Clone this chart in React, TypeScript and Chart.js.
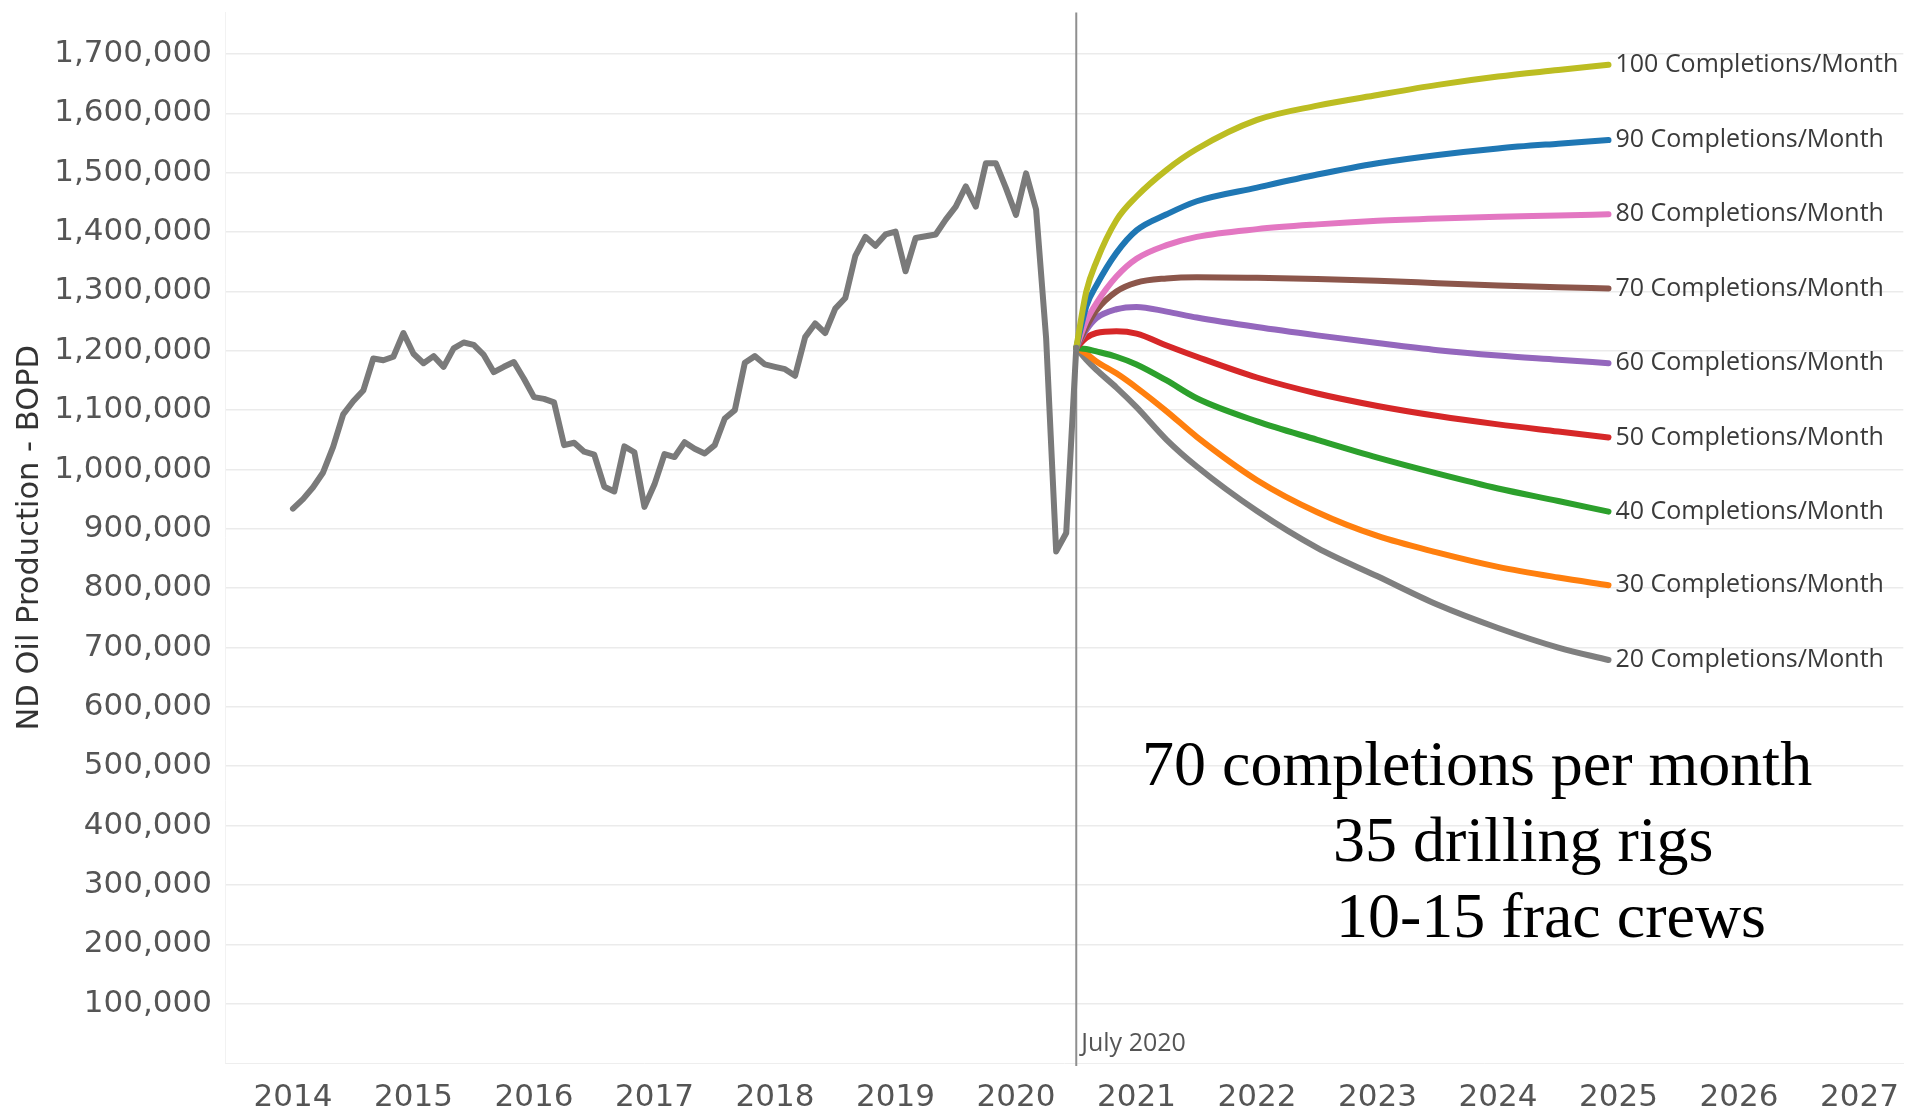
import { useEffect, useRef } from 'react';
import { Chart, registerables } from 'chart.js';

Chart.register(...registerables);

// ---------- data ----------
const histStart = '2014-01';
// Monthly ND oil production (BOPD, thousands), Jan 2014 .. Jul 2020
const histValues = [
  934, 950, 970, 995, 1038, 1093, 1115, 1133, 1187, 1184, 1190, 1230,
  1195, 1179, 1191, 1173, 1204, 1214, 1210, 1193, 1164, 1173, 1181, 1153,
  1122, 1119, 1113, 1041, 1045, 1030, 1025, 971, 963, 1039, 1029, 937,
  975, 1026, 1021, 1046, 1035, 1027, 1041, 1086, 1100, 1180, 1191, 1177,
  1173, 1169, 1158, 1223, 1246, 1230, 1271, 1289, 1360, 1392, 1377, 1396,
  1401, 1334, 1390, 1393, 1396, 1421, 1443, 1477, 1443, 1516, 1516, 1474,
  1429, 1499, 1438, 1221, 862, 893, 1205,
];

const projDates = [
  '2020-07', '2020-08', '2020-09', '2020-11', '2021-01', '2021-04', '2021-07',
  '2022-01', '2022-07', '2023-01', '2023-07', '2024-01', '2024-07', '2024-12',
];
const p100 = [1205, 1300, 1350, 1420, 1460, 1505, 1540, 1589, 1613, 1631, 1648, 1662, 1673, 1682];
const p90 = [1205, 1275, 1310, 1365, 1403, 1430, 1452, 1475, 1497, 1516, 1530, 1541, 1549, 1555];
const p80 = [1205, 1250, 1280, 1325, 1355, 1378, 1392, 1405, 1413, 1419, 1423, 1426, 1428, 1430];
const p70 = [1205, 1240, 1268, 1300, 1315, 1322, 1324, 1323, 1321, 1318, 1314, 1310, 1307, 1305];
const p60 = [1205, 1235, 1255, 1270, 1274, 1266, 1256, 1240, 1226, 1213, 1201, 1192, 1185, 1179];
const p50 = [1205, 1222, 1230, 1233, 1229, 1209, 1190, 1155, 1128, 1107, 1090, 1076, 1064, 1054];
const p40 = [1205, 1203, 1199, 1190, 1177, 1150, 1120, 1081, 1050, 1020, 993, 968, 947, 929];
const p30 = [1205, 1195, 1182, 1162, 1138, 1098, 1055, 982, 928, 888, 860, 836, 818, 805];
const p20 = [1205, 1185, 1168, 1138, 1105, 1050, 1005, 930, 868, 820, 772, 733, 700, 679];

const projSeries = [p100, p90, p80, p70, p60, p50, p40, p30, p20];
const projLabels = [
  '100 Completions/Month', '90 Completions/Month', '80 Completions/Month',
  '70 Completions/Month', '60 Completions/Month', '50 Completions/Month',
  '40 Completions/Month', '30 Completions/Month', '20 Completions/Month',
];
const projColors = [
  '#bcbd22', '#1f77b4', '#e377c2', '#8c564b', '#9467bd',
  '#d62728', '#2ca02c', '#ff7f0e', '#7f7f7f',
];
const histColor = '#7a7a7a';

const xTickYears = [2014, 2015, 2016, 2017, 2018, 2019, 2020, 2021, 2022, 2023, 2024, 2025, 2026, 2027];
const yTickValues = [
  100000, 200000, 300000, 400000, 500000, 600000, 700000, 800000, 900000,
  1000000, 1100000, 1200000, 1300000, 1400000, 1500000, 1600000, 1700000,
];
const yTitle = 'ND Oil Production - BOPD';
const markerDate = '2020-07';
const markerLabel = 'July 2020';
const noteLines = ['70 completions per month', '35 drilling rigs', '10-15 frac crews'];

// ---------- helpers ----------
const toYear = (s: string) => {
  const [y, m] = s.split('-').map(Number);
  return y + (m - 1) / 12;
};
const histX0 = toYear(histStart);

const overlayPlugin = {
  id: 'overlay',
  beforeDatasetsDraw(chart: any) {
    const { ctx, chartArea, scales } = chart;
    const x = scales.x.getPixelForValue(toYear(markerDate));
    ctx.save();
    ctx.strokeStyle = '#8f8f8f';
    ctx.lineWidth = 2;
    ctx.beginPath();
    ctx.moveTo(x, chartArea.top);
    ctx.lineTo(x, chartArea.bottom + 3);
    ctx.stroke();
    ctx.font = '25px "Open Sans"';
    ctx.fillStyle = '#555555';
    ctx.textBaseline = 'middle';
    ctx.textAlign = 'left';
    ctx.fillText(markerLabel, x + 5, chartArea.bottom - 19);
    ctx.restore();
  },
  afterDatasetsDraw(chart: any) {
    const { ctx, chartArea } = chart;
    ctx.save();
    // end labels
    ctx.font = '25px "Open Sans"';
    ctx.fillStyle = '#3a3a3a';
    ctx.textBaseline = 'middle';
    ctx.textAlign = 'left';
    projLabels.forEach((lab, i) => {
      const meta = chart.getDatasetMeta(i + 1);
      const pt = meta.data[meta.data.length - 1];
      if (pt) ctx.fillText(lab, pt.x + 7, pt.y);
    });
    // y title
    ctx.save();
    ctx.translate(30, (chartArea.top + chartArea.bottom) / 2);
    ctx.rotate(-Math.PI / 2);
    ctx.textAlign = 'center';
    ctx.textBaseline = 'middle';
    ctx.font = '30.5px "DejaVu Sans"';
    ctx.fillStyle = '#333333';
    ctx.fillText(yTitle, 0, 0);
    ctx.restore();
    // annotation
    ctx.font = '64px "Liberation Serif"';
    ctx.fillStyle = '#000000';
    ctx.textBaseline = 'alphabetic';
    ctx.textAlign = 'left';
    ctx.fillText(noteLines[0], 1142, 785);
    ctx.fillText(noteLines[1], 1333, 861);
    ctx.fillText(noteLines[2], 1336, 937);
    ctx.restore();
  },
};

export default function App() {
  const ref = useRef<HTMLCanvasElement>(null);

  useEffect(() => {
    document.body.style.margin = '0';
    document.body.style.overflow = 'hidden';
    const canvas = ref.current;
    if (!canvas) return;

    const datasets: any[] = [
      {
        label: 'Historical',
        data: histValues.map((v, i) => ({ x: histX0 + i / 12, y: v * 1000 })),
        borderColor: histColor,
        borderWidth: 6,
        pointRadius: 0,
        tension: 0,
        borderCapStyle: 'round',
        borderJoinStyle: 'round',
      },
      ...projSeries.map((arr, i) => ({
        label: projLabels[i],
        data: arr.map((v, j) => ({ x: toYear(projDates[j]), y: v * 1000 })),
        borderColor: projColors[i],
        borderWidth: 6,
        pointRadius: 0,
        cubicInterpolationMode: 'monotone',
        borderCapStyle: 'round',
        borderJoinStyle: 'round',
      })),
    ];

    const chart = new Chart(canvas, {
      type: 'line',
      data: { datasets },
      plugins: [overlayPlugin],
      options: {
        animation: false,
        responsive: false,
        devicePixelRatio: 1,
        layout: { padding: { top: 12.5, left: 0, right: 0, bottom: 0 } },
        plugins: { legend: { display: false }, tooltip: { enabled: false } },
        scales: {
          x: {
            type: 'linear',
            min: 2013.436,
            max: 2027.363,
            afterBuildTicks: (scale: any) => {
              scale.ticks = xTickYears.map((v) => ({ value: v }));
            },
            afterFit: (scale: any) => {
              scale.height = 49;
            },
            grid: { display: false },
            border: { display: true, color: '#eeeeee', width: 1 },
            ticks: {
              autoSkip: false,
              maxRotation: 0,
              padding: 8,
              color: '#555555',
              font: { family: 'DejaVu Sans', size: 31 },
              callback: (v: any) => String(v),
            },
          },
          y: {
            type: 'linear',
            min: 0,
            max: 1770000,
            afterBuildTicks: (scale: any) => {
              scale.ticks = yTickValues.map((v) => ({ value: v }));
            },
            afterFit: (scale: any) => {
              scale.width = 225;
              scale.paddingTop = 0;
              scale.paddingBottom = 0;
            },
            grid: { color: '#ebebeb', lineWidth: 1.5, drawTicks: false },
            border: { display: true, color: '#f2f2f2' },
            ticks: {
              padding: 13,
              color: '#555555',
              font: { family: 'DejaVu Sans', size: 31 },
              callback: (v: any) => Number(v).toLocaleString('en-US'),
            },
          },
        },
      } as any,
    });

    return () => chart.destroy();
  }, []);

  return (
    <div style={{ width: 1907, height: 1112, background: '#ffffff' }}>
      <canvas ref={ref} width={1907} height={1112} style={{ display: 'block' }} />
    </div>
  );
}
